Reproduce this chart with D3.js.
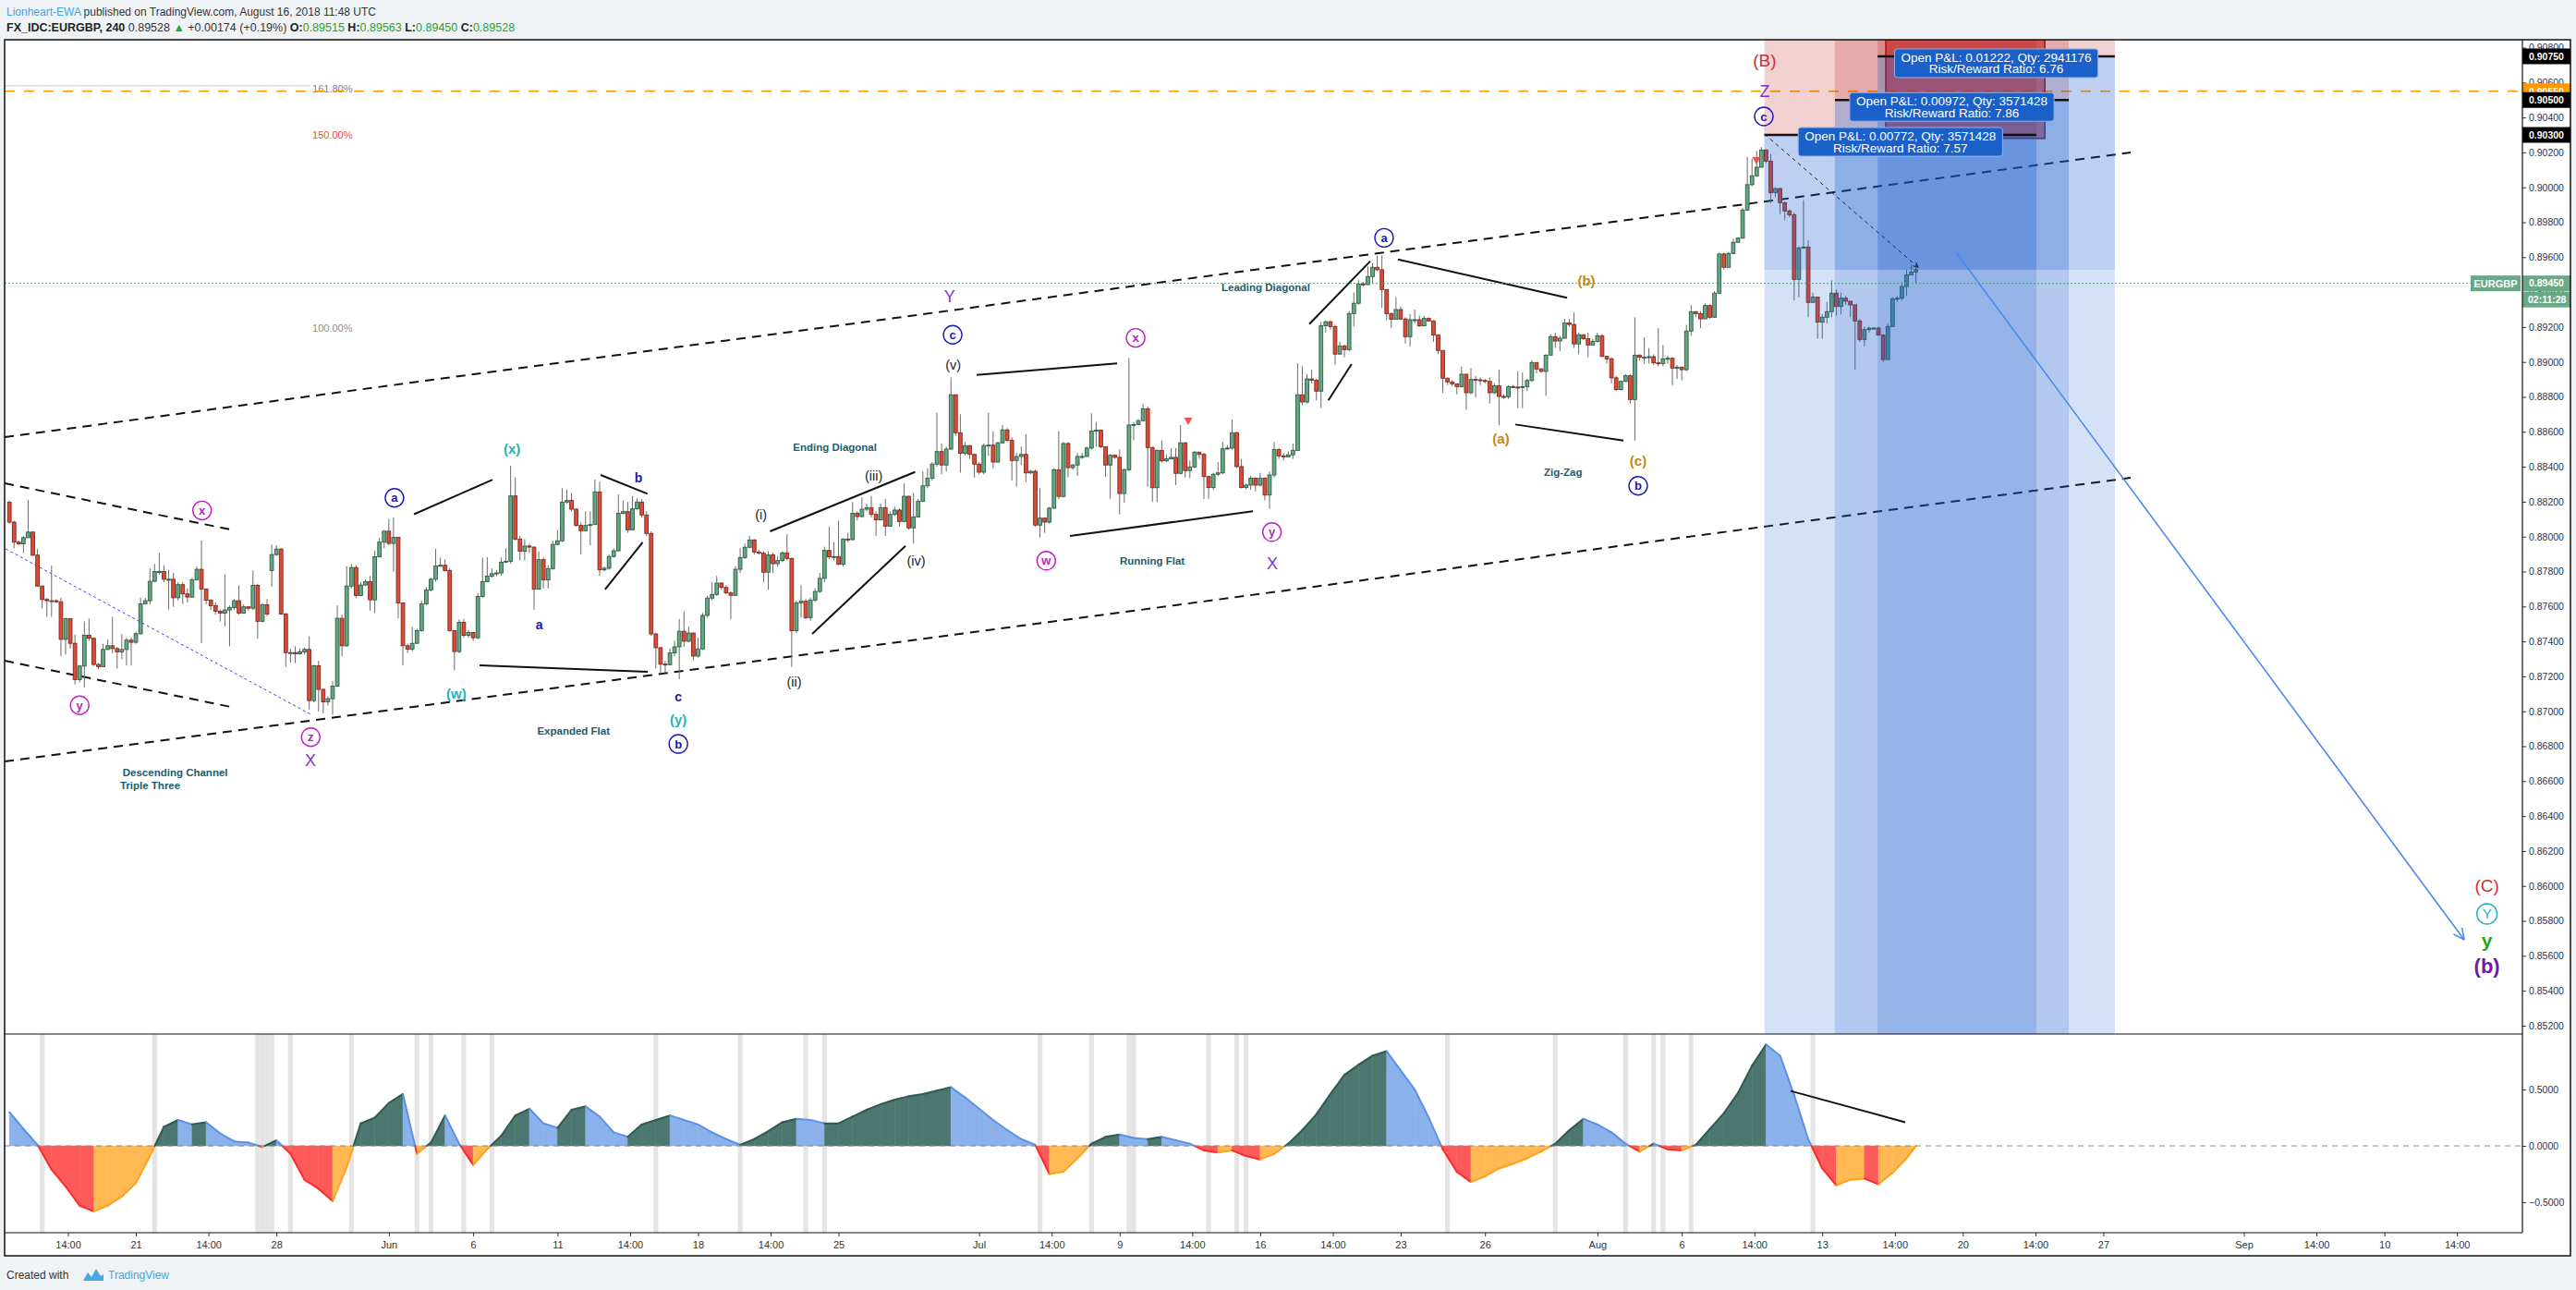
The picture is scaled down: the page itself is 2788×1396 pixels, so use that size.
<!DOCTYPE html>
<html>
<head>
<meta charset="utf-8">
<title>FX_IDC:EURGBP, 240</title>
<script src="https://cdnjs.cloudflare.com/ajax/libs/d3/7.8.5/d3.min.js"></script>
<style>
  html, body { margin: 0; padding: 0; background: #f0f3f6; }
  svg { display: block; }
  text { font-family: "Liberation Sans", Arial, sans-serif; }
</style>
</head>
<body>
<svg id="chart" width="2788" height="1396"></svg>
<script>
// 4h candles, FX_IDC:EURGBP
const firstBarTime = '2018-05-14T12:00';
const firstOpen = 0.88197;
const gapOpens = {56: 0.87806};
const closes = [
.88083,.87968,.87959,.87994,.88026,.87894,.87717,.87640,.87633,.87633,
.87627,.87412,.87530,.87389,.87181,.87259,.87435,.87418,.87268,.87255,
.87354,.87375,.87359,.87340,.87354,.87407,.87395,.87444,.87615,.87633,
.87744,.87800,.87800,.87756,.87756,.87650,.87725,.87672,.87654,.87753,
.87813,.87700,.87636,.87605,.87573,.87562,.87580,.87594,.87633,.87562,
.87598,.87590,.87721,.87515,.87610,.87557,.87897,.87929,.87557,.87336,
.87336,.87329,.87340,.87354,.87061,.87261,.87125,.87054,.87072,.87144,
.87532,.87375,.87717,.87823,.87663,.87723,.87742,.87638,.87885,.87968,
.88031,.87961,.87996,.87620,.87375,.87356,.87389,.87462,.87615,.87695,
.87756,.87832,.87836,.87806,.87462,.87342,.87509,.87435,.87451,.87421,
.87657,.87742,.87774,.87788,.87792,.87854,.87859,.88233,.87986,.87916,
.87946,.87940,.87699,.87868,.87752,.87817,.87955,.87976,.88198,.88207,
.88157,.88064,.88034,.88064,.88069,.88256,.87810,.87819,.87886,.87919,
.88133,.88143,.88039,.88159,.88198,.88124,.88018,.87443,.87364,.87270,
.87267,.87334,.87369,.87458,.87401,.87448,.87316,.87357,.87549,.87648,
.87669,.87734,.87709,.87678,.87664,.87813,.87880,.87939,.87981,.87912,
.87905,.87796,.87895,.87845,.87863,.87907,.87875,.87461,.87621,.87630,
.87536,.87637,.87686,.87761,.87921,.87884,.87886,.87842,.87986,.87983,
.88134,.88115,.88157,.88166,.88127,.88096,.88166,.88060,.88127,.88152,
.88087,.88231,.88050,.88113,.88203,.88291,.88334,.88415,.88487,.88410,
.88501,.88812,.88595,.88477,.88521,.88471,.88415,.88369,.88521,.88524,
.88427,.88537,.88611,.88551,.88436,.88459,.88471,.88365,.88374,.88066,
.88106,.88083,.88163,.88383,.88230,.88533,.88395,.88410,.88459,.88459,
.88507,.88604,.88609,.88515,.88410,.88466,.88454,.88247,.88383,.88639,
.88642,.88664,.88732,.88510,.88280,.88494,.88434,.88445,.88454,.88362,
.88537,.88378,.88399,.88484,.88471,.88344,.88281,.88357,.88365,.88503,
.88507,.88595,.88401,.88281,.88295,.88335,.88295,.88335,.88238,.88353,
.88498,.88462,.88457,.88468,.88494,.88812,.88771,.88903,.88895,.88833,
.89207,.89230,.89203,.89045,.89092,.89071,.89277,.89336,.89447,.89443,
.89489,.89542,.89528,.89415,.89277,.89244,.89300,.89246,.89145,.89242,
.89242,.89207,.89249,.89235,.89154,.89066,.88907,.88886,.88875,.88859,
.88930,.88824,.88900,.88898,.88894,.88889,.88824,.88864,.88803,.88801,
.88859,.88856,.88854,.88859,.88894,.88997,.88960,.88946,.89039,.89145,
.89120,.89136,.89224,.89215,.89103,.89156,.89133,.89097,.89118,.89150,
.89032,.89018,.88909,.88842,.88889,.88921,.88785,.89039,.89027,.89027,
.89030,.88995,.88991,.89018,.89021,.88965,.88970,.88956,.89177,.89288,
.89277,.89247,.89323,.89256,.89394,.89618,.89542,.89621,.89685,.89709,
.89870,.90015,.90066,.90115,.90214,.90150,.89970,.89993,.89912,.89865,
.89843,.89473,.89653,.89658,.89341,.89371,.89228,.89256,.89288,.89394,
.89318,.89365,.89348,.89327,.89235,.89129,.89185,.89194,.89194,.89154,
.89014,.89203,.89362,.89365,.89432,.89499,.89515,.89528];
const highs = [
.88206,.88091,.87977,.88003,.88210,.88030,.87929,.87721,.87650,.87834,
.87642,.87650,.87536,.87530,.87439,.87266,.87515,.87530,.87421,.87276,
.87386,.87412,.87541,.87368,.87442,.87421,.87421,.87456,.87650,.87650,
.87818,.87844,.87906,.87836,.87809,.87792,.87739,.87739,.87703,.87765,
.87830,.87977,.87703,.87642,.87624,.87583,.87786,.87606,.87642,.87721,
.87612,.87601,.87806,.87730,.87619,.87642,.87954,.87950,.87933,.87562,
.87359,.87372,.87359,.87365,.87428,.87266,.87289,.87130,.87086,.87174,
.87606,.87553,.87830,.87844,.87836,.87739,.87756,.87774,.87920,.87994,
.88038,.88102,.88109,.87994,.87624,.87386,.87483,.87474,.87633,.87712,
.87765,.87929,.87880,.87871,.87818,.87465,.87527,.87530,.87465,.87456,
.87677,.87880,.87883,.87818,.87809,.87880,.87933,.88406,.88339,.88004,
.87986,.87960,.87942,.87916,.87880,.87836,.87977,.88039,.88277,.88269,
.88251,.88163,.88083,.88145,.88145,.88327,.88313,.87828,.87898,.87933,
.88242,.88207,.88198,.88233,.88219,.88216,.88145,.88030,.87448,.87369,
.87289,.87360,.87404,.87528,.87572,.87484,.87369,.87422,.87563,.87660,
.87739,.87775,.87739,.87722,.87686,.87831,.87933,.87960,.88004,.87986,
.87925,.87916,.87916,.87907,.87889,.87916,.88013,.87880,.87634,.87722,
.87642,.87651,.87704,.87792,.87942,.88057,.87969,.88092,.87990,.88022,
.88198,.88145,.88224,.88189,.88233,.88145,.88189,.88216,.88145,.88171,
.88163,.88304,.88233,.88251,.88216,.88374,.88392,.88427,.88710,.88533,
.88515,.88912,.88815,.88701,.88542,.88524,.88427,.88427,.88533,.88709,
.88604,.88542,.88639,.88621,.88568,.88480,.88515,.88586,.88383,.88383,
.88277,.88110,.88171,.88392,.88604,.88542,.88542,.88418,.88480,.88480,
.88515,.88706,.88657,.88612,.88515,.88471,.88471,.88498,.88392,.89023,
.88656,.88674,.88759,.88745,.88515,.88498,.88551,.88471,.88507,.88507,
.88639,.88542,.88436,.88489,.88480,.88480,.88348,.88365,.88427,.88542,
.88524,.88671,.88600,.88445,.88304,.88348,.88339,.88365,.88339,.88374,
.88542,.88507,.88480,.88489,.88533,.88992,.88974,.88930,.88956,.88903,
.89230,.89239,.89239,.89212,.89115,.89097,.89292,.89397,.89468,.89459,
.89547,.89565,.89609,.89609,.89415,.89283,.89371,.89318,.89256,.89274,
.89300,.89265,.89265,.89256,.89239,.89159,.89066,.88912,.88895,.88877,
.88974,.88930,.88965,.88921,.88912,.88903,.88912,.88877,.88956,.88815,
.88868,.88868,.88947,.88939,.88903,.89009,.88991,.88965,.89044,.89159,
.89168,.89150,.89247,.89247,.89283,.89168,.89150,.89168,.89133,.89168,
.89159,.89036,.89027,.88921,.88894,.88930,.88930,.89256,.89044,.89141,
.89080,.89044,.89194,.89097,.89036,.89027,.88983,.88974,.89212,.89327,
.89291,.89291,.89335,.89330,.89406,.89626,.89626,.89630,.89706,.89715,
.89882,.90173,.90165,.90209,.90230,.90217,.90191,.90000,.89997,.89918,
.89873,.89856,.89662,.89926,.89697,.89397,.89256,.89274,.89344,.89468,
.89415,.89397,.89379,.89344,.89327,.89247,.89203,.89203,.89200,.89203,
.89150,.89221,.89371,.89379,.89459,.89529,.89556,.89563];
const lows = [
.88074,.87933,.87950,.87906,.87994,.87889,.87712,.87589,.87541,.87541,
.87619,.87315,.87324,.87359,.87153,.87165,.87135,.87403,.87259,.87241,
.87252,.87350,.87333,.87245,.87298,.87262,.87262,.87386,.87439,.87612,
.87612,.87739,.87783,.87739,.87583,.87598,.87633,.87615,.87624,.87650,
.87747,.87391,.87612,.87580,.87553,.87513,.87486,.87372,.87580,.87553,
.87576,.87576,.87580,.87416,.87509,.87545,.87712,.87889,.87553,.87254,
.87280,.87276,.87324,.87324,.87010,.87051,.86998,.86989,.87033,.86980,
.87139,.87315,.87368,.87703,.87650,.87659,.87717,.87576,.87562,.87880,
.87933,.87950,.87799,.87532,.87262,.87333,.87343,.87386,.87456,.87606,
.87686,.87742,.87827,.87800,.87456,.87234,.87333,.87421,.87421,.87403,
.87412,.87650,.87739,.87765,.87774,.87775,.87849,.87845,.87977,.87863,
.87863,.87907,.87581,.87700,.87704,.87704,.87810,.87951,.87969,.88189,
.88145,.88057,.87898,.88030,.87951,.88074,.87775,.87801,.87810,.87880,
.87916,.88127,.88022,.88039,.88154,.88110,.88004,.87431,.87245,.87214,
.87219,.87263,.87316,.87184,.87369,.87395,.87289,.87307,.87351,.87536,
.87634,.87660,.87695,.87669,.87528,.87660,.87792,.87872,.87933,.87898,
.87898,.87739,.87695,.87792,.87828,.87854,.87863,.87254,.87448,.87536,
.87528,.87519,.87625,.87678,.87739,.87872,.87863,.87836,.87828,.87969,
.87977,.88092,.88110,.88145,.88110,.88004,.88092,.88004,.88057,.88119,
.88057,.88083,.88039,.87960,.88110,.88198,.88277,.88321,.88401,.88357,
.88374,.88498,.88577,.88366,.88463,.88445,.88339,.88357,.88357,.88462,
.88392,.88424,.88533,.88542,.88321,.88286,.88410,.88313,.88357,.88057,
.87995,.88021,.88074,.88159,.88216,.88224,.88339,.88383,.88348,.88445,
.88462,.88498,.88515,.88507,.88343,.88216,.88445,.88127,.88194,.88374,
.88551,.88639,.88660,.88286,.88198,.88198,.88424,.88427,.88445,.88295,
.88357,.88339,.88335,.88392,.88445,.88216,.88216,.88268,.88348,.88357,
.88498,.88498,.88392,.88277,.88272,.88268,.88260,.88286,.88207,.88159,
.88339,.88445,.88436,.88454,.88445,.88489,.88753,.88762,.88877,.88780,
.88736,.89168,.89186,.88983,.89048,.89027,.89062,.89203,.89327,.89433,
.89447,.89450,.89521,.89309,.89239,.89194,.89292,.89239,.89106,.89089,
.89221,.89200,.89217,.89230,.89115,.89045,.88824,.88868,.88859,.88815,
.88854,.88727,.88815,.88797,.88868,.88877,.88762,.88815,.88639,.88789,
.88789,.88850,.88736,.88736,.88833,.88886,.88935,.88939,.88806,.89044,
.89080,.89062,.89141,.89203,.89080,.89044,.89124,.89027,.89097,.89111,
.89027,.88991,.88877,.88833,.88836,.88886,.88762,.88550,.89009,.88991,
.88991,.88983,.88974,.88974,.88991,.88868,.88903,.88894,.88947,.89150,
.89256,.89194,.89247,.89247,.89256,.89388,.89529,.89552,.89618,.89688,
.89706,.89865,.90006,.90059,.90112,.90138,.89909,.89944,.89847,.89812,
.89829,.89353,.89371,.89648,.89256,.89344,.89133,.89133,.89221,.89256,
.89265,.89274,.89327,.89256,.88956,.89115,.89089,.89168,.89185,.89150,
.89000,.89018,.89200,.89344,.89353,.89379,.89503,.89450];

// oscillator pane, one reading every 3 bars
const oscEvery = 3;
const oscValues = [
0.30,0.15,0.01,-0.21,-0.36,-0.53,-0.58,-0.53,-0.45,-0.33,
-0.09,0.17,0.23,0.19,0.21,0.11,0.04,0.03,-0.01,0.05,
-0.07,-0.30,-0.38,-0.49,-0.19,0.20,0.25,0.38,0.46,-0.07,
0.03,0.27,0.02,-0.17,-0.03,0.09,0.27,0.33,0.20,0.16,
0.32,0.35,0.26,0.12,0.08,0.19,0.23,0.27,0.23,0.19,
0.12,0.06,0.01,0.06,0.13,0.21,0.24,0.23,0.20,0.20,
0.26,0.32,0.37,0.41,0.44,0.46,0.49,0.52,0.43,0.33,
0.23,0.14,0.06,0.01,-0.25,-0.23,-0.11,0.02,0.08,0.10,
0.07,0.06,0.08,0.05,0.02,-0.04,-0.06,-0.04,-0.09,-0.12,
-0.07,0.02,0.14,0.28,0.46,0.63,0.72,0.80,0.84,0.67,
0.50,0.25,-0.03,-0.23,-0.32,-0.27,-0.20,-0.16,-0.11,-0.05,
0.02,0.14,0.24,0.19,0.12,0.02,-0.05,0.02,-0.03,-0.04,
0.01,0.15,0.29,0.47,0.71,0.90,0.80,0.45,0.06,-0.20,
-0.35,-0.30,-0.29,-0.34,-0.24,-0.11,0.00];
// bars shaded grey in the oscillator pane
const bandBars = [7,31,53,54,55,56,60,73,87,90,97,103,138,156,170,174,220,231,239,240,256,262,264,307,330,345,351,353,359,385];

// time axis
const tickLabels = ['14:00','21','14:00','28','Jun','6','11','14:00','18','14:00','25','Jul','14:00','9','14:00','16','14:00','23','26','Aug','6','14:00','13','14:00','20','14:00','27','Sep','14:00','10','14:00'];
const tickDates = ['2018-05-16T14:00','2018-05-21T00:00','2018-05-23T14:00','2018-05-28T00:00','2018-06-01T00:00','2018-06-06T00:00','2018-06-11T00:00','2018-06-13T14:00','2018-06-18T00:00','2018-06-20T14:00','2018-06-25T00:00','2018-07-01T00:00','2018-07-04T14:00','2018-07-09T00:00','2018-07-11T14:00','2018-07-16T00:00','2018-07-18T14:00','2018-07-23T00:00','2018-07-26T00:00','2018-08-01T00:00','2018-08-06T00:00','2018-08-08T14:00','2018-08-13T00:00','2018-08-15T14:00','2018-08-20T00:00','2018-08-22T14:00','2018-08-27T00:00','2018-09-01T00:00','2018-09-05T14:00','2018-09-10T00:00','2018-09-12T14:00'];
const priceTicks = d3.range(0.852, 0.9081, 0.002);
const oscTicks = [-0.5, 0, 0.5];

// drawings: [t1, p1, t2, p2], t = trading days after Mon 21 May 2018
const channelLines = [
  [-4.668, 0.88305, 3.534, 0.88035],
  [-4.668, 0.87289, 3.534, 0.87020],
  [-4.668, 0.88570, 70.97, 0.90199],
  [-4.668, 0.86713, 70.97, 0.88337]];
const waveLines = [
  [9.895, 0.88128, 12.689, 0.88326], [12.229, 0.87263, 18.212, 0.87226],
  [16.535, 0.88353, 18.202, 0.88245], [16.693, 0.87698, 18.031, 0.87968],
  [22.564, 0.88030, 27.722, 0.88370], [24.063, 0.87443, 27.383, 0.87947],
  [29.915, 0.88926, 34.911, 0.88992], [33.235, 0.88004, 39.744, 0.88145],
  [41.749, 0.89217, 43.918, 0.89577], [42.426, 0.88780, 43.254, 0.88988],
  [44.905, 0.89587, 50.921, 0.89367], [49.080, 0.88642, 52.926, 0.88550]];
const blueDotted = [-4.635, 0.87930, 6.213, 0.86983];
const peakToNow = [57.945, 0.90305, 63.412, 0.89542];
const projection = [64.76, 0.89628, 82.84, 0.85692];
const oscTrend = [58.876, 0.487, 62.952, 0.21];
const sellMarkers = [[37.44, 0.88660], [57.66, 0.90152]];

const fibNames = ['161.80%', '150.00%', '100.00%'];
const fibPrices = [0.90565, 0.90300, 0.89191];
const fibKinds = ['fibA', 'fibB', 'fibC'];
const orangeLevel = 0.90550;
const lastPrice = 0.89450;
const lastClose = 0.89528;

// short position tools
const posStart = [57.94, 60.45, 61.97];
const posEnd = [67.62, 68.77, 70.41];
const posEntry = [0.90300, 0.90500, 0.90750];
const posStop = [0.91000, 0.91100, 0.91250];
const posTarget = [0.84700, 0.84800, 0.84900];
const posPnl = ['0.00772', '0.00972', '0.01222'];
const posQty = ['3571428', '3571428', '2941176'];
const posRR = ['7.57', '7.86', '6.76'];
const stopZone = [62.26, 0.90280, 67.92, 0.91000];

// wave labels: [text, t, price, kind]
const waveLabels = [
  ['(B)', 57.95, 0.90729, 'red'], ['Z', 57.95, 0.90552, 'purple'], ['c', 57.92, 0.90406, 'navyC'],
  ['a', 44.41, 0.89711, 'navyC'], ['Leading Diagonal', 40.20, 0.89427, 'teal'],
  ['(b)', 51.61, 0.89466, 'orange'], ['(a)', 48.57, 0.88559, 'orange'], ['(c)', 53.45, 0.88432, 'orange'],
  ['Zig-Zag', 50.78, 0.88370, 'teal'], ['b', 53.45, 0.88291, 'navyC'],
  ['x', 35.57, 0.89138, 'magC'], ['w', 32.39, 0.87862, 'magC'], ['Running Flat', 36.16, 0.87862, 'teal'],
  ['y', 40.42, 0.88026, 'magC'], ['X', 40.43, 0.87850, 'purple'],
  ['(x)', 13.38, 0.88503, 'cyan'], ['b', 17.88, 0.88339, 'navy'], ['a', 14.35, 0.87496, 'navy'],
  ['c', 19.30, 0.87083, 'navy'], ['(y)', 19.30, 0.86951, 'cyan'], ['b', 19.30, 0.86813, 'navyC'],
  ['(i)', 22.24, 0.88124, 'black'], ['(ii)', 23.42, 0.87171, 'black'], ['(iii)', 26.25, 0.88348, 'black'],
  ['(iv)', 27.76, 0.87862, 'black'], ['(v)', 29.08, 0.88983, 'black'], ['c', 29.06, 0.89156, 'navyC'],
  ['Y', 28.95, 0.89379, 'purple'], ['Ending Diagonal', 24.87, 0.88510, 'teal'],
  ['Expanded Flat', 15.57, 0.86887, 'teal'], ['(w)', 11.40, 0.87099, 'cyan'],
  ['a', 9.20, 0.88222, 'navyC'], ['z', 6.22, 0.86852, 'magC'], ['X', 6.21, 0.86718, 'purple'],
  ['x', 2.354, 0.88150, 'magC'], ['y', -2.0, 0.87034, 'magC'],
  ['Descending Channel', 1.40, 0.86651, 'teal'], ['Triple Three', 0.51, 0.86575, 'teal'],
  ['(C)', 83.65, 0.86004, 'red'], ['Y', 83.65, 0.85840, 'cyanC'], ['y', 83.65, 0.85689, 'green'],
  ['(b)', 83.65, 0.85543, 'purpleB']];

// ---------------------------------------------------------------
const L = 5, R = 2730, AX = 2782, TOP = 43, MB = 1119, OB = 1334, TB = 1359;

const svg = d3.select('#chart');
const refMonday = Date.UTC(2018, 4, 21);
function tday(s) {
  const days = (Date.parse(s + 'Z') - refMonday) / 864e5;
  const wk = Math.floor(days / 7);
  return wk * 5 + Math.min(days - wk * 7, 5);
}
const t0 = tday(firstBarTime);
const barT = i => t0 + i / 6;

const x = d3.scaleLinear().domain([-4.67, 84.91]).range([L, R]);
const y = d3.scaleLinear().domain([0.85152, 0.90845]).range([MB, TOP]);
const yo = d3.scaleLinear().domain([-0.770, 0.992]).range([OB, MB]);

const style = {
  red: {fill: '#d32f2f', size: 19},
  purple: {fill: '#8433c6', size: 18},
  navyC: {fill: '#1717b5', size: 13, weight: 'bold', circle: 10},
  magC: {fill: '#c21bc2', size: 13, weight: 'bold', circle: 10},
  cyanC: {fill: '#1fb2b8', size: 15, circle: 11},
  navy: {fill: '#1717b5', size: 14, weight: 'bold'},
  cyan: {fill: '#1fb2b8', size: 15, weight: 'bold'},
  black: {fill: '#222', size: 14.5},
  orange: {fill: '#c9860f', size: 15, weight: 'bold'},
  teal: {fill: '#215b6a', size: 11.5, weight: 'bold', family: '"DejaVu Sans", sans-serif'},
  green: {fill: '#1fa51f', size: 21, weight: 'bold'},
  purpleB: {fill: '#6a1ab0', size: 22, weight: 'bold'},
  fibA: {fill: '#7c7ca0', size: 11},
  fibB: {fill: '#e04b4b', size: 11},
  fibC: {fill: '#8c8c8c', size: 11}
};

// panes
svg.append('rect').attr('x', L).attr('y', TOP).attr('width', AX - L).attr('height', TB - TOP).attr('fill', '#fff');

const defs = svg.append('defs');
defs.append('clipPath').attr('id', 'mainClip').append('rect')
  .attr('x', L).attr('y', TOP).attr('width', R - L).attr('height', MB - TOP);
defs.append('clipPath').attr('id', 'oscClip').append('rect')
  .attr('x', L).attr('y', MB).attr('width', R - L).attr('height', OB - MB);

const main = svg.append('g').attr('clip-path', 'url(#mainClip)');
const osc = svg.append('g').attr('clip-path', 'url(#oscClip)');

function seg(g, d, yScale) {
  return g.append('line')
    .attr('x1', x(d[0])).attr('y1', yScale(d[1]))
    .attr('x2', x(d[2])).attr('y2', yScale(d[3]));
}

// fib levels and orange level
main.append('line').attr('x1', L).attr('x2', x(6.2)).attr('y1', y(fibPrices[0]) - 3).attr('y2', y(fibPrices[0]) - 3)
  .attr('stroke', '#c9c9d6').attr('stroke-width', 1);
fibNames.forEach((n, i) => {
  const s = style[fibKinds[i]];
  main.append('text').attr('x', x(6.28)).attr('y', y(fibPrices[i])).attr('dy', '0.35em')
    .attr('font-size', s.size).attr('fill', s.fill).text(n);
});
main.append('line').attr('x1', L).attr('x2', R).attr('y1', y(orangeLevel)).attr('y2', y(orangeLevel))
  .attr('stroke', '#ff9800').attr('stroke-width', 1.7).attr('stroke-dasharray', '11,10');

// channel + wave lines
channelLines.forEach(d => seg(main, d, y).attr('stroke', '#111').attr('stroke-width', 2).attr('stroke-dasharray', '10,7'));
waveLines.forEach(d => seg(main, d, y).attr('stroke', '#111').attr('stroke-width', 2));
seg(main, blueDotted, y).attr('stroke', '#3a3aff').attr('stroke-width', 1).attr('stroke-dasharray', '3,3');

// candles
const bars = closes.map((c, i) => ({
  t: barT(i), c,
  o: gapOpens[i] !== undefined ? gapOpens[i] : (i ? closes[i - 1] : firstOpen),
  h: highs[i], l: lows[i]
}));
const cg = main.append('g');
cg.selectAll('line.wick').data(bars).join('line').attr('class', 'wick')
  .attr('x1', d => x(d.t)).attr('x2', d => x(d.t))
  .attr('y1', d => y(Math.max(d.h, d.o, d.c))).attr('y2', d => y(Math.min(d.l, d.o, d.c)))
  .attr('stroke', '#6b6b6b').attr('stroke-width', 1);
const bw = 3.8;
cg.selectAll('rect.body').data(bars).join('rect').attr('class', 'body')
  .attr('x', d => x(d.t) - bw / 2).attr('width', bw)
  .attr('y', d => y(Math.max(d.o, d.c)))
  .attr('height', d => Math.max(1, Math.abs(y(d.o) - y(d.c))))
  .attr('fill', d => d.c >= d.o ? '#66a684' : '#dc4b38')
  .attr('stroke', d => d.c >= d.o ? '#2c5d44' : '#7d2a1e').attr('stroke-width', 0.9);

// red stop zone rectangle
main.append('rect').attr('x', x(stopZone[0])).attr('width', x(stopZone[2]) - x(stopZone[0]))
  .attr('y', y(stopZone[3])).attr('height', y(stopZone[1]) - y(stopZone[3]))
  .attr('fill', 'rgba(205,40,40,0.62)').attr('stroke', '#8b1a1a').attr('stroke-width', 1.5);

// short position tools
posEntry.forEach((e, i) => {
  const x0 = x(posStart[i]), x1 = x(posEnd[i]);
  main.append('rect').attr('x', x0).attr('width', x1 - x0).attr('y', y(posStop[i])).attr('height', y(e) - y(posStop[i]))
    .attr('fill', 'rgba(185,20,20,0.2)');
  main.append('rect').attr('x', x0).attr('width', x1 - x0).attr('y', y(e)).attr('height', y(posTarget[i]) - y(e))
    .attr('fill', 'rgba(20,90,205,0.18)');
  main.append('rect').attr('x', x0).attr('width', x1 - x0).attr('y', y(e)).attr('height', y(lastClose) - y(e))
    .attr('fill', 'rgba(20,90,205,0.12)');
});
posEntry.forEach((e, i) => {
  main.append('line').attr('x1', x(posStart[i])).attr('x2', x(posEnd[i])).attr('y1', y(e)).attr('y2', y(e))
    .attr('stroke', '#111').attr('stroke-width', 2.5);
});

// last price line
main.append('line').attr('x1', L).attr('x2', 2674).attr('y1', y(lastPrice)).attr('y2', y(lastPrice))
  .attr('stroke', '#4f9c76').attr('stroke-width', 1).attr('stroke-dasharray', '2,2');

// peak to now dashed line
seg(main, peakToNow, y).attr('stroke', '#222').attr('stroke-width', 1).attr('stroke-dasharray', '4,4');

function arrowHead(g, d, yScale, len, color, w) {
  const xa = x(d[0]), ya = yScale(d[1]), xb = x(d[2]), yb = yScale(d[3]);
  const ang = Math.atan2(yb - ya, xb - xa);
  [-0.45, 0.45].forEach(a => {
    g.append('line').attr('x1', xb).attr('y1', yb)
      .attr('x2', xb - len * Math.cos(ang + a)).attr('y2', yb - len * Math.sin(ang + a))
      .attr('stroke', color).attr('stroke-width', w);
  });
}
arrowHead(main, peakToNow, y, 6, '#222', 1);

// projection arrow
seg(main, projection, y).attr('stroke', '#4a8af0').attr('stroke-width', 1.6);
arrowHead(main, projection, y, 13, '#4a8af0', 1.6);

// sell markers
sellMarkers.forEach(m => {
  const cx = x(m[0]), cy = y(m[1]);
  main.append('path').attr('d', `M${cx - 4.5},${cy - 4} L${cx + 4.5},${cy - 4} L${cx},${cy + 4} Z`).attr('fill', '#ef5350');
});

// wave labels
waveLabels.forEach(([t, tt, p, k]) => {
  const s = style[k];
  const cx = x(tt), cy = y(p);
  if (s.circle) {
    main.append('circle').attr('cx', cx).attr('cy', cy).attr('r', s.circle)
      .attr('fill', 'none').attr('stroke', s.fill).attr('stroke-width', 1.4);
  }
  main.append('text').attr('x', cx).attr('y', cy).attr('dy', '0.36em')
    .attr('text-anchor', 'middle').attr('font-size', s.size)
    .attr('font-weight', s.weight || 'normal')
    .attr('font-family', s.family || null)
    .attr('fill', s.fill).text(t);
});

// position labels
posEntry.forEach((e, i) => {
  const cx = (x(posStart[i]) + x(posEnd[i])) / 2, top = y(e) - 8;
  const g = main.append('g');
  const box = g.append('rect').attr('y', top).attr('height', 31).attr('rx', 3)
    .attr('fill', '#1b5fc9').attr('stroke', '#8fb3ee').attr('stroke-width', 1);
  const t1 = g.append('text').attr('x', cx).attr('y', top + 14).attr('text-anchor', 'middle')
    .attr('font-size', 13.5).attr('fill', '#fff').text(`Open P&L: ${posPnl[i]}, Qty: ${posQty[i]}`);
  g.append('text').attr('x', cx).attr('y', top + 26.5).attr('text-anchor', 'middle')
    .attr('font-size', 13.5).attr('fill', '#fff').text(`Risk/Reward Ratio: ${posRR[i]}`);
  const w = t1.node().getComputedTextLength() + 14;
  box.attr('x', cx - w / 2).attr('width', w);
});

// oscillator
bandBars.forEach(b => {
  osc.append('rect').attr('x', x(barT(b)) - 2.6).attr('width', 5.2).attr('y', MB).attr('height', OB - MB).attr('fill', '#e4e4e4');
});
const oscPts = oscValues.map((v, k) => ({t: barT(Math.min(k * oscEvery, closes.length - 1)), v}));
const oscCol = {
  upPos: ['#4b7770', '#2f5a52'], downPos: ['#8ab1ea', '#5b91e6'],
  downNeg: ['#ff5a5a', '#ff2a2a'], upNeg: ['#ffb852', '#ffa11f']
};
const oscFill = osc.append('g'), oscLine = osc.append('g');
for (let k = 0; k < oscPts.length - 1; k++) {
  const a = oscPts[k], b = oscPts[k + 1];
  const rising = b.v >= a.v;
  let parts = [[a, b]];
  if (a.v * b.v < 0) {
    const f = a.v / (a.v - b.v);
    const m = {t: a.t + f * (b.t - a.t), v: 0};
    parts = [[a, m], [m, b]];
  }
  parts.forEach(([p, q]) => {
    const pos = (p.v + q.v) > 0;
    const c = oscCol[pos ? (rising ? 'upPos' : 'downPos') : (rising ? 'upNeg' : 'downNeg')];
    oscFill.append('path')
      .attr('d', `M${x(p.t)},${yo(0)} L${x(p.t)},${yo(p.v)} L${x(q.t)},${yo(q.v)} L${x(q.t)},${yo(0)} Z`)
      .attr('fill', c[0]).attr('stroke', c[0]).attr('stroke-width', 0.5);
    oscLine.append('line').attr('x1', x(p.t)).attr('y1', yo(p.v)).attr('x2', x(q.t)).attr('y2', yo(q.v))
      .attr('stroke', c[1]).attr('stroke-width', 2).attr('stroke-linecap', 'round');
  });
}
osc.append('line').attr('x1', L).attr('x2', R).attr('y1', yo(0)).attr('y2', yo(0))
  .attr('stroke', '#8a8a8a').attr('stroke-width', 1).attr('stroke-dasharray', '6,5');
seg(osc, oscTrend, yo).attr('stroke', '#111').attr('stroke-width', 2);

// axes
const pAxis = svg.append('g').attr('transform', `translate(${R},0)`)
  .call(d3.axisRight(y).tickValues(priceTicks).tickFormat(d3.format('.5f')).tickSize(4).tickPadding(3));
const oAxis = svg.append('g').attr('transform', `translate(${R},0)`)
  .call(d3.axisRight(yo).tickValues(oscTicks).tickFormat(d3.format('.4f')).tickSize(4).tickPadding(3));
const tAxis = svg.append('g').attr('transform', `translate(0,${OB})`)
  .call(d3.axisBottom(x).tickValues(tickDates.map(tday)).tickFormat((d, i) => tickLabels[i]).tickSize(4).tickPadding(5));
[pAxis, oAxis, tAxis].forEach(a => {
  a.select('.domain').remove();
  a.selectAll('text').attr('font-size', a === tAxis ? 11 : 10.5).attr('fill', '#333')
    .attr('font-family', '"Liberation Sans", Arial, sans-serif');
  a.selectAll('line').attr('stroke', '#333');
});

// axis price flags
function flag(p, txt, fill, color) {
  const g = svg.append('g');
  g.append('rect').attr('x', R).attr('y', y(p) - 8.5).attr('width', AX - R).attr('height', 17).attr('fill', fill);
  g.append('text').attr('x', R + 7).attr('y', y(p)).attr('dy', '0.36em').attr('font-size', 10.5)
    .attr('font-weight', 'bold').attr('fill', color).text(txt);
}
flag(orangeLevel, d3.format('.5f')(orangeLevel), '#ff9800', '#fff');
posEntry.forEach(e => flag(e, d3.format('.5f')(e), '#000', '#fff'));
flag(lastPrice, d3.format('.5f')(lastPrice), '#6aa886', '#fff');
svg.append('rect').attr('x', R).attr('y', y(lastPrice) + 9).attr('width', AX - R).attr('height', 17).attr('fill', '#6aa886');
svg.append('text').attr('x', R + 6).attr('y', y(lastPrice) + 17.5).attr('dy', '0.36em').attr('font-size', 10.5)
  .attr('font-weight', 'bold').attr('fill', '#fff').text('02:11:28');
svg.append('rect').attr('x', 2674).attr('y', y(lastPrice) - 8.5).attr('width', 54).attr('height', 17).attr('fill', '#6aa886');
svg.append('text').attr('x', 2701).attr('y', y(lastPrice)).attr('dy', '0.36em').attr('text-anchor', 'middle')
  .attr('font-size', 11).attr('font-weight', 'bold').attr('fill', '#fff').text('EURGBP');

// frame lines
const frame = svg.append('g').attr('stroke', '#111').attr('fill', 'none');
frame.append('rect').attr('x', L).attr('y', TOP).attr('width', AX - L).attr('height', TB - TOP).attr('stroke-width', 1.5);
frame.append('line').attr('x1', R).attr('x2', R).attr('y1', TOP).attr('y2', OB).attr('stroke-width', 1.2);
frame.append('line').attr('x1', L).attr('x2', R).attr('y1', MB).attr('y2', MB).attr('stroke-width', 1.2);
frame.append('line').attr('x1', L).attr('x2', R).attr('y1', OB).attr('y2', OB).attr('stroke-width', 1.2);

// header
const h1 = svg.append('text').attr('x', 7).attr('y', 17).attr('xml:space', 'preserve')
  .attr('font-family', 'Roboto, sans-serif').attr('font-size', 12);
h1.append('tspan').attr('fill', '#3ea6e0').text('Lionheart-EWA');
h1.append('tspan').attr('fill', '#333').text(' published on TradingView.com, August 16, 2018 11:48 UTC');
const h2 = svg.append('text').attr('x', 7).attr('y', 34).attr('xml:space', 'preserve')
  .attr('font-family', 'Roboto, sans-serif').attr('font-size', 12.5).attr('fill', '#333');
h2.append('tspan').attr('font-weight', 'bold').attr('fill', '#222').text('FX_IDC:EURGBP, 240');
h2.append('tspan').text(' 0.89528 ');
h2.append('tspan').attr('fill', '#26a52b').text('▲');
h2.append('tspan').text(' +0.00174 (+0.19%) ');
[['O:', '0.89515 '], ['H:', '0.89563 '], ['L:', '0.89450 '], ['C:', '0.89528']].forEach(([k, v]) => {
  h2.append('tspan').attr('font-weight', 'bold').attr('fill', '#222').text(k);
  h2.append('tspan').attr('fill', '#26a52b').text(v);
});

// footer
svg.append('text').attr('x', 7).attr('y', 1384).attr('font-family', 'Roboto, sans-serif').attr('font-size', 12).attr('fill', '#333').text('Created with');
svg.append('path').attr('d', 'M90,1386 L95,1377 L99,1382 L104,1373 L109,1381 L112,1379 L112,1386 Z').attr('fill', '#4aa8e0');
svg.append('text').attr('x', 117).attr('y', 1384).attr('font-family', 'Roboto, sans-serif').attr('font-size', 12).attr('fill', '#3ea6e0').text('TradingView');
</script>
</body>
</html>
